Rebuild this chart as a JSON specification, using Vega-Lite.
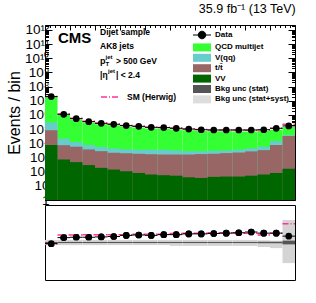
{
  "$schema": "https://vega.github.io/schema/vega-lite/v6.json",
  "padding": {"left": 5, "top": 2, "right": 5, "bottom": 0},
  "spacing": 5,
  "bounds": "flush",
  "resolve": {"scale": {"x": "independent", "y": "independent", "color": "independent", "strokeDash": "independent"}, "axis": {"x": "independent", "y": "independent"}},
  "config": {
    "font": "Liberation Sans",
    "view": {"stroke": "#000000", "strokeWidth": 1},
    "axis": {"domain": false, "grid": false, "labelOverlap": false, "labelBound": false, "tickColor": "#000000", "labelColor": "#000000", "titleColor": "#000000", "titleFontWeight": "normal", "labelFont": "Liberation Sans", "titleFont": "Liberation Sans"}
  },
  "datasets": {
    "stack": [
      {"lo":0.00,"hi":0.05,"process":"QCD multijet","v":2.06e7},
      {"lo":0.05,"hi":0.10,"process":"QCD multijet","v":9.9e5},
      {"lo":0.10,"hi":0.15,"process":"QCD multijet","v":4.82e5},
      {"lo":0.15,"hi":0.20,"process":"QCD multijet","v":2.97e5},
      {"lo":0.20,"hi":0.25,"process":"QCD multijet","v":2.23e5},
      {"lo":0.25,"hi":0.30,"process":"QCD multijet","v":1.89e5},
      {"lo":0.30,"hi":0.35,"process":"QCD multijet","v":1.5e5},
      {"lo":0.35,"hi":0.40,"process":"QCD multijet","v":1.32e5},
      {"lo":0.40,"hi":0.45,"process":"QCD multijet","v":1.13e5},
      {"lo":0.45,"hi":0.50,"process":"QCD multijet","v":1.07e5},
      {"lo":0.50,"hi":0.55,"process":"QCD multijet","v":9.5e4},
      {"lo":0.55,"hi":0.60,"process":"QCD multijet","v":8.3e4},
      {"lo":0.60,"hi":0.65,"process":"QCD multijet","v":7.4e4},
      {"lo":0.65,"hi":0.70,"process":"QCD multijet","v":7.0e4},
      {"lo":0.70,"hi":0.75,"process":"QCD multijet","v":7.0e4},
      {"lo":0.75,"hi":0.80,"process":"QCD multijet","v":6.9e4},
      {"lo":0.80,"hi":0.85,"process":"QCD multijet","v":6.8e4},
      {"lo":0.85,"hi":0.90,"process":"QCD multijet","v":7.3e4},
      {"lo":0.90,"hi":0.95,"process":"QCD multijet","v":9.2e4},
      {"lo":0.95,"hi":1.00,"process":"QCD multijet","v":1.45e5},
      {"lo":0.00,"hi":0.05,"process":"V(qq)","v":2.9e5},
      {"lo":0.05,"hi":0.10,"process":"V(qq)","v":2.14e4},
      {"lo":0.10,"hi":0.15,"process":"V(qq)","v":1.23e4},
      {"lo":0.15,"hi":0.20,"process":"V(qq)","v":7.6e3},
      {"lo":0.20,"hi":0.25,"process":"V(qq)","v":5.5e3},
      {"lo":0.25,"hi":0.30,"process":"V(qq)","v":4.4e3},
      {"lo":0.30,"hi":0.35,"process":"V(qq)","v":3.8e3},
      {"lo":0.35,"hi":0.40,"process":"V(qq)","v":3.55e3},
      {"lo":0.40,"hi":0.45,"process":"V(qq)","v":3.55e3},
      {"lo":0.45,"hi":0.50,"process":"V(qq)","v":3.55e3},
      {"lo":0.50,"hi":0.55,"process":"V(qq)","v":3.16e3},
      {"lo":0.55,"hi":0.60,"process":"V(qq)","v":2.8e3},
      {"lo":0.60,"hi":0.65,"process":"V(qq)","v":2.8e3},
      {"lo":0.65,"hi":0.70,"process":"V(qq)","v":3.0e3},
      {"lo":0.70,"hi":0.75,"process":"V(qq)","v":3.16e3},
      {"lo":0.75,"hi":0.80,"process":"V(qq)","v":3.55e3},
      {"lo":0.80,"hi":0.85,"process":"V(qq)","v":4.4e3},
      {"lo":0.85,"hi":0.90,"process":"V(qq)","v":5.75e3},
      {"lo":0.90,"hi":0.95,"process":"V(qq)","v":1.45e4},
      {"lo":0.95,"hi":1.00,"process":"V(qq)","v":3.9e4},
      {"lo":0.00,"hi":0.05,"process":"t/t̄","v":8.3e4},
      {"lo":0.05,"hi":0.10,"process":"t/t̄","v":7.4e3},
      {"lo":0.10,"hi":0.15,"process":"t/t̄","v":5.75e3},
      {"lo":0.15,"hi":0.20,"process":"t/t̄","v":3.7e3},
      {"lo":0.20,"hi":0.25,"process":"t/t̄","v":2.8e3},
      {"lo":0.25,"hi":0.30,"process":"t/t̄","v":2.15e3},
      {"lo":0.30,"hi":0.35,"process":"t/t̄","v":2.0e3},
      {"lo":0.35,"hi":0.40,"process":"t/t̄","v":1.82e3},
      {"lo":0.40,"hi":0.45,"process":"t/t̄","v":1.7e3},
      {"lo":0.45,"hi":0.50,"process":"t/t̄","v":1.62e3},
      {"lo":0.50,"hi":0.55,"process":"t/t̄","v":1.62e3},
      {"lo":0.55,"hi":0.60,"process":"t/t̄","v":1.62e3},
      {"lo":0.60,"hi":0.65,"process":"t/t̄","v":1.74e3},
      {"lo":0.65,"hi":0.70,"process":"t/t̄","v":1.82e3},
      {"lo":0.70,"hi":0.75,"process":"t/t̄","v":2.04e3},
      {"lo":0.75,"hi":0.80,"process":"t/t̄","v":2.24e3},
      {"lo":0.80,"hi":0.85,"process":"t/t̄","v":2.7e3},
      {"lo":0.85,"hi":0.90,"process":"t/t̄","v":3.3e3},
      {"lo":0.90,"hi":0.95,"process":"t/t̄","v":7.6e3},
      {"lo":0.95,"hi":1.00,"process":"t/t̄","v":3.3e4},
      {"lo":0.00,"hi":0.05,"process":"VV","v":7.6e3},
      {"lo":0.05,"hi":0.10,"process":"VV","v":720},
      {"lo":0.10,"hi":0.15,"process":"VV","v":470},
      {"lo":0.15,"hi":0.20,"process":"VV","v":290},
      {"lo":0.20,"hi":0.25,"process":"VV","v":186},
      {"lo":0.25,"hi":0.30,"process":"VV","v":141},
      {"lo":0.30,"hi":0.35,"process":"VV","v":107},
      {"lo":0.35,"hi":0.40,"process":"VV","v":81},
      {"lo":0.40,"hi":0.45,"process":"VV","v":63},
      {"lo":0.45,"hi":0.50,"process":"VV","v":56},
      {"lo":0.50,"hi":0.55,"process":"VV","v":52},
      {"lo":0.55,"hi":0.60,"process":"VV","v":40},
      {"lo":0.60,"hi":0.65,"process":"VV","v":36},
      {"lo":0.65,"hi":0.70,"process":"VV","v":43},
      {"lo":0.70,"hi":0.75,"process":"VV","v":45},
      {"lo":0.75,"hi":0.80,"process":"VV","v":45},
      {"lo":0.80,"hi":0.85,"process":"VV","v":52},
      {"lo":0.85,"hi":0.90,"process":"VV","v":63},
      {"lo":0.90,"hi":0.95,"process":"VV","v":81},
      {"lo":0.95,"hi":1.00,"process":"VV","v":160}
    ],
    "bins": [
      {"lo":0.00,"hi":0.05,"c":0.025,"data":2.0e7,"herwig":2.0e7,"r":0.97,"hr":0.97,"slo":0.93,"shi":1.07,"tlo":0.985,"thi":1.015},
      {"lo":0.05,"hi":0.10,"c":0.075,"data":1.12e6,"herwig":1.19e6,"r":1.13,"hr":1.2,"slo":0.93,"shi":1.07,"tlo":0.985,"thi":1.015},
      {"lo":0.10,"hi":0.15,"c":0.125,"data":5.5e5,"herwig":5.8e5,"r":1.14,"hr":1.2,"slo":0.93,"shi":1.07,"tlo":0.985,"thi":1.015},
      {"lo":0.15,"hi":0.20,"c":0.175,"data":3.39e5,"herwig":3.6e5,"r":1.14,"hr":1.21,"slo":0.93,"shi":1.07,"tlo":0.985,"thi":1.015},
      {"lo":0.20,"hi":0.25,"c":0.225,"data":2.57e5,"herwig":2.7e5,"r":1.15,"hr":1.21,"slo":0.93,"shi":1.07,"tlo":0.985,"thi":1.015},
      {"lo":0.25,"hi":0.30,"c":0.275,"data":2.19e5,"herwig":2.3e5,"r":1.16,"hr":1.21,"slo":0.93,"shi":1.07,"tlo":0.985,"thi":1.015},
      {"lo":0.30,"hi":0.35,"c":0.325,"data":1.78e5,"herwig":1.8e5,"r":1.19,"hr":1.21,"slo":0.93,"shi":1.07,"tlo":0.985,"thi":1.015},
      {"lo":0.35,"hi":0.40,"c":0.375,"data":1.58e5,"herwig":1.6e5,"r":1.2,"hr":1.22,"slo":0.93,"shi":1.07,"tlo":0.985,"thi":1.015},
      {"lo":0.40,"hi":0.45,"c":0.425,"data":1.35e5,"herwig":1.37e5,"r":1.19,"hr":1.22,"slo":0.93,"shi":1.07,"tlo":0.985,"thi":1.015},
      {"lo":0.45,"hi":0.50,"c":0.475,"data":1.29e5,"herwig":1.3e5,"r":1.21,"hr":1.22,"slo":0.93,"shi":1.07,"tlo":0.985,"thi":1.015},
      {"lo":0.50,"hi":0.55,"c":0.525,"data":1.15e5,"herwig":1.19e5,"r":1.21,"hr":1.24,"slo":0.91,"shi":1.07,"tlo":0.985,"thi":1.015},
      {"lo":0.55,"hi":0.60,"c":0.575,"data":1.02e5,"herwig":1.04e5,"r":1.23,"hr":1.25,"slo":0.91,"shi":1.07,"tlo":0.985,"thi":1.015},
      {"lo":0.60,"hi":0.65,"c":0.625,"data":9.1e4,"herwig":9.3e4,"r":1.23,"hr":1.25,"slo":0.91,"shi":1.07,"tlo":0.985,"thi":1.015},
      {"lo":0.65,"hi":0.70,"c":0.675,"data":8.7e4,"herwig":8.8e4,"r":1.24,"hr":1.26,"slo":0.91,"shi":1.07,"tlo":0.985,"thi":1.015},
      {"lo":0.70,"hi":0.75,"c":0.725,"data":8.7e4,"herwig":8.8e4,"r":1.25,"hr":1.26,"slo":0.91,"shi":1.07,"tlo":0.985,"thi":1.015},
      {"lo":0.75,"hi":0.80,"c":0.775,"data":8.7e4,"herwig":8.6e4,"r":1.26,"hr":1.25,"slo":0.91,"shi":1.07,"tlo":0.985,"thi":1.015},
      {"lo":0.80,"hi":0.85,"c":0.825,"data":8.7e4,"herwig":8.5e4,"r":1.28,"hr":1.25,"slo":0.91,"shi":1.07,"tlo":0.985,"thi":1.015},
      {"lo":0.85,"hi":0.90,"c":0.875,"data":9.1e4,"herwig":8.8e4,"r":1.25,"hr":1.2,"slo":0.88,"shi":1.06,"tlo":0.98,"thi":1.02},
      {"lo":0.90,"hi":0.95,"c":0.925,"data":1.15e5,"herwig":1.15e5,"r":1.25,"hr":1.25,"slo":0.85,"shi":1.05,"tlo":0.98,"thi":1.02},
      {"lo":0.95,"hi":1.00,"c":0.975,"data":1.7e5,"herwig":2.2e5,"r":1.17,"hr":1.5,"slo":0.45,"shi":1.6,"tlo":0.95,"thi":1.05}
    ]
  },
  "vconcat": [
    {
      "width": 250,
      "height": 175,
      "title": {"text": "35.9 fb⁻¹ (13 TeV)", "anchor": "end", "fontSize": 12.5, "fontWeight": "normal", "font": "Liberation Sans", "offset": 3},
      "layer": [
        {
          "layer": [
            {
              "data": {"name": "stack"},
              "mark": {"type": "bar"},
              "encoding": {
                "x": {"field": "lo", "type": "quantitative", "scale": {"domain": [0, 1], "nice": false},
                  "axis": {"title": null, "labelOverlap": false, "values": [0,0.02,0.04,0.06,0.08,0.1,0.12,0.14,0.16,0.18,0.2,0.22,0.24,0.26,0.28,0.3,0.32,0.34,0.36,0.38,0.4,0.42,0.44,0.46,0.48,0.5,0.52,0.54,0.56,0.58,0.6,0.62,0.64,0.66,0.68,0.7,0.72,0.74,0.76,0.78,0.8,0.82,0.84,0.86,0.88,0.9,0.92,0.94,0.96,0.98,1],
                    "labels": false, "tickSize": {"condition": {"test": "abs(datum.value*10 - round(datum.value*10)) < 0.001", "value": -5}, "value": -2.5}}},
                "x2": {"field": "hi"},
                "y": {"field": "v", "type": "quantitative", "scale": {"type": "log", "domain": [1, 2.24e12], "nice": false},
                  "axis": {"title": "Events / bin", "labelOverlap": false, "titleFontSize": 16, "titlePadding": 2, "labelFontSize": 13.5, "labelPadding": 3,
                    "values": [1,2,3,4,5,6,7,8,9,1e1,2e1,3e1,4e1,5e1,6e1,7e1,8e1,9e1,1e2,2e2,3e2,4e2,5e2,6e2,7e2,8e2,9e2,1e3,2e3,3e3,4e3,5e3,6e3,7e3,8e3,9e3,1e4,2e4,3e4,4e4,5e4,6e4,7e4,8e4,9e4,1e5,2e5,3e5,4e5,5e5,6e5,7e5,8e5,9e5,1e6,2e6,3e6,4e6,5e6,6e6,7e6,8e6,9e6,1e7,2e7,3e7,4e7,5e7,6e7,7e7,8e7,9e7,1e8,2e8,3e8,4e8,5e8,6e8,7e8,8e8,9e8,1e9,2e9,3e9,4e9,5e9,6e9,7e9,8e9,9e9,1e10,2e10,3e10,4e10,5e10,6e10,7e10,8e10,9e10,1e11,2e11,3e11,4e11,5e11,6e11,7e11,8e11,9e11,1e12,2e12],
                    "labelExpr": "abs(log(datum.value)/LN10 - round(log(datum.value)/LN10)) > 0.001 ? '' : (datum.value == 1 ? '1' : (datum.value == 10 ? '10' : '10' + (round(log(datum.value)/LN10) >= 10 ? '¹' : '') + ['⁰','¹','²','³','⁴','⁵','⁶','⁷','⁸','⁹'][round(log(datum.value)/LN10) % 10]))",
                    "tickSize": {"condition": {"test": "abs(log(datum.value)/LN10 - round(log(datum.value)/LN10)) < 0.001", "value": -7}, "value": -3.5}}},
                "y2": {"datum": 1},
                "color": {"field": "process", "type": "nominal",
                  "scale": {"domain": ["Data","QCD multijet","V(qq)","t/t̄","VV","Bkg unc (stat)","Bkg unc (stat+syst)"],
                            "range": ["#000000","#33ff33","#66cccc","#996666","#006600","#555555","#dddddd"]},
                  "legend": {"orient": "none", "legendX": 153, "legendY": 6, "title": null,
                    "symbolType": "M-2.25,-1L2.25,-1L2.25,1L-2.25,1Z", "symbolSize": 64,
                    "labelFont": "Liberation Sans", "labelFontWeight": "bold", "labelFontSize": 8, "labelOffset": 9,
                    "rowPadding": 2.4, "labelColor": "#000000",
                    "encode": {"symbols": {"update": {
                      "shape": {"signal": "datum.label == 'Data' ? 'M-2.25,0L2.25,0M0.95,0A0.95,0.95,0,1,1,-0.95,0A0.95,0.95,0,1,1,0.95,0Z' : 'M-2.25,-1L2.25,-1L2.25,1L-2.25,1Z'"},
                      "stroke": {"value": "#000000"},
                      "strokeWidth": {"signal": "datum.label == 'Data' ? 1 : 0"},
                      "opacity": {"value": 1}
                    }}}}}
              }
            },
            {
              "data": {"name": "bins"},
              "mark": {"type": "rule", "color": "#ff3399", "strokeWidth": 1.5},
              "encoding": {
                "x": {"field": "lo", "type": "quantitative"},
                "x2": {"field": "hi"},
                "y": {"field": "herwig", "type": "quantitative", "scale": {"type": "log"}},
                "strokeDash": {"datum": "SM (Herwig)", "type": "nominal",
                  "scale": {"domain": ["SM (Herwig)"], "range": [[6, 2, 1, 2]]},
                  "legend": {"orient": "none", "legendX": 55, "legendY": 62, "title": null,
                    "symbolType": "stroke", "symbolSize": 324, "symbolStrokeColor": "#ff3399", "symbolStrokeWidth": 1.5,
                    "labelFont": "Liberation Sans", "labelFontWeight": "bold", "labelFontSize": 8.5, "labelOffset": 7, "labelColor": "#000000"}}
              }
            },
            {
              "data": {"name": "bins"},
              "mark": {"type": "rule", "color": "#000000", "strokeWidth": 1},
              "encoding": {
                "x": {"field": "lo", "type": "quantitative"},
                "x2": {"field": "hi"},
                "y": {"field": "data", "type": "quantitative", "scale": {"type": "log"}}
              }
            },
            {
              "data": {"name": "bins"},
              "mark": {"type": "point", "filled": true, "size": 45, "opacity": 1},
              "encoding": {
                "x": {"field": "c", "type": "quantitative"},
                "y": {"field": "data", "type": "quantitative", "scale": {"type": "log"}},
                "color": {"datum": "Data", "type": "nominal"}
              }
            },
            {
              "data": {"values": [{}]},
              "mark": {"type": "text", "text": "CMS", "font": "Liberation Sans", "fontWeight": "bold", "fontSize": 15, "align": "left", "baseline": "middle", "color": "#000000"},
              "encoding": {"x": {"datum": 0.052}, "y": {"datum": 2.7e11, "scale": {"type": "log"}}}
            },
            {
              "data": {"values": [{}]},
              "mark": {"type": "text", "text": "Dijet sample", "font": "Liberation Sans", "fontWeight": "bold", "fontSize": 8.5, "align": "left", "baseline": "middle", "color": "#000000"},
              "encoding": {"x": {"datum": 0.22}, "y": {"datum": 7.2e11, "scale": {"type": "log"}}}
            },
            {
              "data": {"values": [{}]},
              "mark": {"type": "text", "text": "AK8 jets", "font": "Liberation Sans", "fontWeight": "bold", "fontSize": 8.5, "align": "left", "baseline": "middle", "color": "#000000"},
              "encoding": {"x": {"datum": 0.22}, "y": {"datum": 7.3e10, "scale": {"type": "log"}}}
            },
            {
              "data": {"values": [{}]},
              "mark": {"type": "text", "text": "p", "font": "Liberation Sans", "fontWeight": "bold", "fontSize": 9, "align": "left", "baseline": "middle", "color": "#000000"},
              "encoding": {"x": {"datum": 0.22}, "y": {"datum": 6.5e9, "scale": {"type": "log"}}}
            },
            {
              "data": {"values": [{}]},
              "mark": {"type": "text", "text": "T", "dx": 5.5, "dy": 3.5, "font": "Liberation Sans", "fontWeight": "bold", "fontSize": 6, "align": "left", "baseline": "middle", "color": "#000000"},
              "encoding": {"x": {"datum": 0.22}, "y": {"datum": 6.5e9, "scale": {"type": "log"}}}
            },
            {
              "data": {"values": [{}]},
              "mark": {"type": "text", "text": "jet", "dx": 5.5, "dy": -4, "font": "Liberation Sans", "fontWeight": "bold", "fontSize": 6, "align": "left", "baseline": "middle", "color": "#000000"},
              "encoding": {"x": {"datum": 0.22}, "y": {"datum": 6.5e9, "scale": {"type": "log"}}}
            },
            {
              "data": {"values": [{}]},
              "mark": {"type": "text", "text": "> 500 GeV", "dx": 16, "font": "Liberation Sans", "fontWeight": "bold", "fontSize": 8.5, "align": "left", "baseline": "middle", "color": "#000000"},
              "encoding": {"x": {"datum": 0.22}, "y": {"datum": 6.5e9, "scale": {"type": "log"}}}
            },
            {
              "data": {"values": [{}]},
              "mark": {"type": "text", "text": "|η", "font": "Liberation Sans", "fontWeight": "bold", "fontSize": 8.5, "align": "left", "baseline": "middle", "color": "#000000"},
              "encoding": {"x": {"datum": 0.22}, "y": {"datum": 6.6e8, "scale": {"type": "log"}}}
            },
            {
              "data": {"values": [{}]},
              "mark": {"type": "text", "text": "jet", "dx": 8, "dy": -4, "font": "Liberation Sans", "fontWeight": "bold", "fontSize": 6, "align": "left", "baseline": "middle", "color": "#000000"},
              "encoding": {"x": {"datum": 0.22}, "y": {"datum": 6.6e8, "scale": {"type": "log"}}}
            },
            {
              "data": {"values": [{}]},
              "mark": {"type": "text", "text": "| < 2.4", "dx": 16, "font": "Liberation Sans", "fontWeight": "bold", "fontSize": 8.5, "align": "left", "baseline": "middle", "color": "#000000"},
              "encoding": {"x": {"datum": 0.22}, "y": {"datum": 6.6e8, "scale": {"type": "log"}}}
            }
          ]
        },
        {
          "data": {"values": [{}]},
          "mark": {"type": "point", "opacity": 0},
          "encoding": {
            "x": {"datum": 0, "type": "quantitative",
              "axis": {"orient": "top", "title": null, "labels": false, "values": [0,0.02,0.04,0.06,0.08,0.1,0.12,0.14,0.16,0.18,0.2,0.22,0.24,0.26,0.28,0.3,0.32,0.34,0.36,0.38,0.4,0.42,0.44,0.46,0.48,0.5,0.52,0.54,0.56,0.58,0.6,0.62,0.64,0.66,0.68,0.7,0.72,0.74,0.76,0.78,0.8,0.82,0.84,0.86,0.88,0.9,0.92,0.94,0.96,0.98,1],
                "tickSize": {"condition": {"test": "abs(datum.value*10 - round(datum.value*10)) < 0.001", "value": -5}, "value": -2.5}}},
            "y": {"datum": 1, "type": "quantitative", "scale": {"type": "log"},
              "axis": {"orient": "right", "title": null, "labels": false,
                "values": [1,2,3,4,5,6,7,8,9,1e1,2e1,3e1,4e1,5e1,6e1,7e1,8e1,9e1,1e2,2e2,3e2,4e2,5e2,6e2,7e2,8e2,9e2,1e3,2e3,3e3,4e3,5e3,6e3,7e3,8e3,9e3,1e4,2e4,3e4,4e4,5e4,6e4,7e4,8e4,9e4,1e5,2e5,3e5,4e5,5e5,6e5,7e5,8e5,9e5,1e6,2e6,3e6,4e6,5e6,6e6,7e6,8e6,9e6,1e7,2e7,3e7,4e7,5e7,6e7,7e7,8e7,9e7,1e8,2e8,3e8,4e8,5e8,6e8,7e8,8e8,9e8,1e9,2e9,3e9,4e9,5e9,6e9,7e9,8e9,9e9,1e10,2e10,3e10,4e10,5e10,6e10,7e10,8e10,9e10,1e11,2e11,3e11,4e11,5e11,6e11,7e11,8e11,9e11,1e12,2e12],
                "tickSize": {"condition": {"test": "abs(log(datum.value)/LN10 - round(log(datum.value)/LN10)) < 0.001", "value": -7}, "value": -3.5}}}
          }
        }
      ],
      "resolve": {"axis": {"x": "independent", "y": "independent"}}
    },
    {
      "width": 250,
      "height": 75,
      "layer": [
        {
          "data": {"name": "bins"},
          "mark": {"type": "point", "filled": true, "size": 45, "color": "#000000", "opacity": 1},
          "encoding": {
            "x": {"field": "c", "type": "quantitative", "scale": {"domain": [0, 1], "nice": false},
              "axis": {"title": "ImageTop (t vs. QCD)", "orient": "bottom", "labelOverlap": false, "labelBound": false, "labelFlush": false, "titleAnchor": "end", "titleFontSize": 13.5, "titlePadding": 1, "labelFontSize": 12.5, "labelPadding": 1,
                "values": [0,0.1,0.2,0.3,0.4,0.5,0.6,0.7,0.8,0.9,1],
                "labelExpr": "'' + (round(datum.value*10)/10)", "tickSize": -5}},
            "y": {"field": "r", "type": "quantitative", "scale": {"domain": [0, 2], "nice": false},
              "axis": {"title": "Nₒbₛ / Nₑₓₚ", "orient": "left", "labelOverlap": false, "labelBound": false, "labelFlush": false, "titleFontSize": 15, "titlePadding": 8, "labelFontSize": 12.5, "labelPadding": 3,
                "values": [0.5, 1, 1.5],
                "labelExpr": "'' + datum.value", "tickSize": -6}},
            "zindex": {"value": 3}
          }
        },
        {
          "data": {"name": "bins"},
          "mark": {"type": "rect", "color": "#d4d4d4"},
          "encoding": {
            "x": {"field": "lo", "type": "quantitative", "axis": null},
            "x2": {"field": "hi"},
            "y": {"field": "slo", "type": "quantitative", "axis": null},
            "y2": {"field": "shi"}
          }
        },
        {
          "data": {"name": "bins"},
          "mark": {"type": "rect", "color": "#555555"},
          "encoding": {
            "x": {"field": "lo", "type": "quantitative", "axis": null},
            "x2": {"field": "hi"},
            "y": {"field": "tlo", "type": "quantitative", "axis": null},
            "y2": {"field": "thi"}
          }
        },
        {
          "data": {"name": "bins"},
          "mark": {"type": "rule", "color": "#ff3399", "strokeWidth": 1.5, "strokeDash": [6, 2, 1, 2]},
          "encoding": {
            "x": {"field": "lo", "type": "quantitative", "axis": null},
            "x2": {"field": "hi"},
            "y": {"field": "hr", "type": "quantitative", "axis": null}
          }
        },
        {
          "data": {"name": "bins"},
          "mark": {"type": "rule", "color": "#000000", "strokeWidth": 1},
          "encoding": {
            "x": {"field": "lo", "type": "quantitative", "axis": null},
            "x2": {"field": "hi"},
            "y": {"field": "r", "type": "quantitative", "axis": null}
          }
        },
        {
          "data": {"name": "bins"},
          "mark": {"type": "point", "filled": true, "size": 45, "color": "#000000", "opacity": 1},
          "encoding": {
            "x": {"field": "c", "type": "quantitative", "axis": null},
            "y": {"field": "r", "type": "quantitative", "axis": null}
          }
        }
      ]
    }
  ]
}
